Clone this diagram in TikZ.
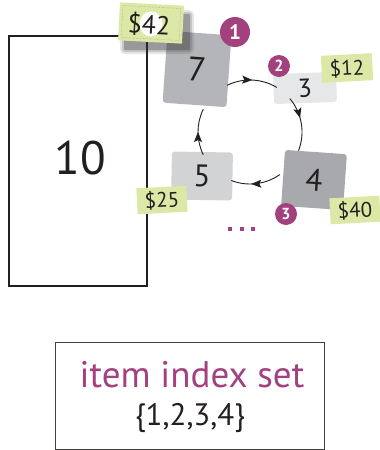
\documentclass[tikz,border=0pt]{standalone}
\usepackage{fontspec}
\setmainfont{PT Sans}
\usetikzlibrary{arrows.meta,decorations.markings}
\definecolor{mag}{HTML}{A3417F}
\definecolor{tagc}{HTML}{DCE8A6}
\definecolor{ink}{HTML}{231F20}
\definecolor{gA}{HTML}{B4B5B8}
\definecolor{gB}{HTML}{E6E7E8}
\definecolor{gC}{HTML}{A7A9AC}
\definecolor{gD}{HTML}{D1D3D4}
\begin{document}
\begin{tikzpicture}[x=1pt,y=-1pt,
  card/.style={rounded corners=3pt, inner sep=0pt, text=ink},
  pricetag/.style={fill=tagc, inner sep=0pt, text=ink, font=\fontsize{21}{21}\selectfont},
  badge/.style={circle, fill=mag, text=white, inner sep=0pt, font=\bfseries},
  link/.style={draw=ink, line width=0.9pt, postaction={decorate},
    decoration={markings, mark=at position #1 with {\arrow{Stealth[length=10pt,width=8pt,inset=2pt]}}}},
  link/.default=0.5
]
\useasboundingbox (0,0) rectangle (380,450);
% big box
\node[draw=ink, line width=1.5pt, minimum width=138pt, minimum height=250pt, inner sep=0pt] (big) at (78,161) {};
\node[text=ink, font=\fontsize{47}{47}\selectfont] (ten) at (80,158) {10};
% cards
\node[card, fill=gA, rotate=-4, minimum width=64pt, minimum height=72pt, font=\fontsize{34}{34}\selectfont] (seven) at (197,69) {7};
% shadow of $42 tag
\foreach \s/\o in {5/0.12, 3/0.18, 1/0.3}
  \fill[black!80, opacity=\o, rounded corners=\s pt] ({125-\s},{15-\s}) rectangle ({189+\s},{49+\s});
\node[pricetag, rotate=-3, minimum width=64pt, minimum height=38pt] (p42) at (151,23) {};
\node[draw=ink!50, densely dotted, rotate=-3, minimum width=58pt, minimum height=32pt, inner sep=0pt] (p42in) at (p42) {};
\fill[white] (151,24) ellipse [x radius=11.5, y radius=12.5];
\node[text=ink, rotate=-3, font=\fontsize{26}{26}\selectfont] (p42t) at (149,25) {\$42};
\node[card, fill=gB, rotate=2, minimum width=63pt, minimum height=30pt, font=\fontsize{26}{26}\selectfont] (three) at (305,88) {3};
\node[card, fill=gC, rotate=-4, minimum width=62pt, minimum height=56pt, font=\fontsize{31}{31}\selectfont] (four) at (314,180) {4};
\node[card, fill=gD, rotate=-1, minimum width=61pt, minimum height=48pt, font=\fontsize{31}{31}\selectfont] (five) at (202,176) {5};
% tags
\node[pricetag, rotate=3, minimum width=51pt, minimum height=27pt] (p12) at (347,68) {\$12};
\node[pricetag, rotate=3, minimum width=50pt, minimum height=26pt] (p40) at (355,210) {\$40};
\node[pricetag, rotate=3, minimum width=50pt, minimum height=26pt] (p25) at (162,200) {\$25};
% badges
\node[badge, minimum size=30pt, font=\bfseries\fontsize{21}{21}\selectfont] (b1) at (235,32) {1};
\node[badge, minimum size=22pt, font=\bfseries\fontsize{16}{16}\selectfont] (b2) at (279,66) {2};
\node[badge, minimum size=22pt, font=\bfseries\fontsize{16}{16}\selectfont] (b3) at (286,214) {3};
% ellipsis
\coordinate (dots) at (241.5,229);
\foreach \dx in {-11.5,0,11.5}
  \fill[mag] ([shift={(\dx-2,-2)}]dots) rectangle ([shift={(\dx+2,2)}]dots);
% ring
\coordinate (ring) at (250,132);
\draw[link] ([shift={(-116:52)}]ring) arc[start angle=-116, end angle=-59, radius=52];
\draw[link=0.4] ([shift={(-40:52)}]ring) arc[start angle=-40, end angle=21, radius=52];
\draw[link=0.6] ([shift={(55:52)}]ring) arc[start angle=55, end angle=111, radius=52];
\draw[link] ([shift={(154:52)}]ring) arc[start angle=154, end angle=206, radius=52];
% bottom box
\node[draw=ink!85, line width=1pt, minimum width=269pt, minimum height=107pt, inner sep=0pt] (setbox) at (189.5,395.5) {};
\node[text=mag, font=\fontsize{37}{37}\selectfont] (title) at (192,375) {item index set};
\node[text=ink, font=\fontsize{31}{31}\selectfont] (set) at (190,418) {\{1,2,3,4\}};
\end{tikzpicture}
\end{document}
